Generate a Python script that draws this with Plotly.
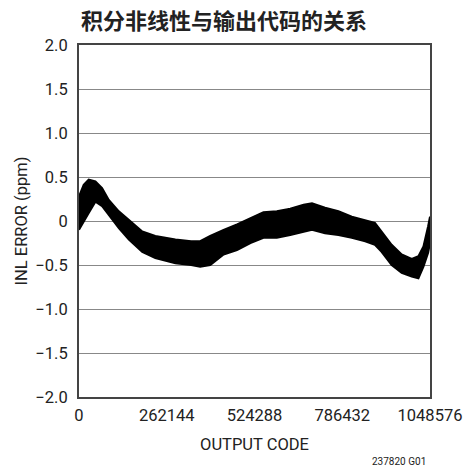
import plotly.graph_objects as go

# Output code positions where the INL band edges were read
codes = [0, 14000, 29000, 49000, 69000, 89000, 119000, 149000, 189000, 228000,
         288000, 335000, 362000, 392000, 432000, 472000, 512000, 551000, 591000,
         631000, 671000, 696000, 735000, 775000, 815000, 855000, 884000, 904000,
         934000, 964000, 994000, 1014000, 1029000, 1043000, 1048576]
# Upper edge of the noisy INL band (ppm)
inl_upper = [0.28, 0.41, 0.47, 0.45, 0.375, 0.24, 0.11, 0.01, -0.12, -0.17,
             -0.21, -0.23, -0.23, -0.17, -0.10, -0.04, 0.03, 0.10, 0.11,
             0.14, 0.185, 0.20, 0.15, 0.11, 0.05, 0.01, -0.02, -0.12,
             -0.27, -0.38, -0.43, -0.40, -0.29, -0.06, 0.05]
# Lower edge of the noisy INL band (ppm)
inl_lower = [-0.10, 0.00, 0.09, 0.22, 0.17, 0.07, -0.08, -0.21, -0.35, -0.42,
             -0.48, -0.50, -0.52, -0.50, -0.38, -0.33, -0.25, -0.19, -0.19,
             -0.16, -0.12, -0.10, -0.14, -0.16, -0.19, -0.23, -0.27, -0.35,
             -0.50, -0.59, -0.63, -0.65, -0.52, -0.36, -0.25]

x_tickvals = [0, 262144, 524288, 786432, 1048576]
x_ticktext = ["0", "262144", "524288", "786432", "1048576"]
y_tickvals = [2.0, 1.5, 1.0, 0.5, 0, -0.5, -1.0, -1.5, -2.0]
y_ticktext = ["2.0", "1.5", "1.0", "0.5", "0", "\u22120.5", "\u22121.0", "\u22121.5", "\u22122.0"]

font_main = "Roboto, Liberation Sans, sans-serif"

fig = go.Figure()
fig.add_trace(go.Scatter(x=codes, y=inl_lower, mode="lines",
                         line=dict(color="black", width=2), showlegend=False,
                         hoverinfo="skip"))
fig.add_trace(go.Scatter(x=codes, y=inl_upper, mode="lines",
                         line=dict(color="black", width=2), fill="tonexty",
                         fillcolor="black", showlegend=False))

fig.update_layout(
    width=464, height=472,
    margin=dict(l=79, r=34, t=45, b=75, autoexpand=False),
    paper_bgcolor="white", plot_bgcolor="white",
    font=dict(family=font_main, size=16.5, color="#222"),
    title=dict(text="<b>积分非线性与输出代码的关系</b>", x=0.483, xanchor="center",
               y=0.955, yanchor="middle",
               font=dict(family="Noto Sans CJK SC", size=22, color="#222")),
    xaxis=dict(range=[0, 1048576], tickvals=x_tickvals, ticktext=x_ticktext,
               showgrid=False, zeroline=False, showline=True, mirror=True,
               linecolor="#444", linewidth=2, ticks="", ticklabelstandoff=2,
               ticklabeloverflow="allow", automargin=False,
               title=dict(text="OUTPUT CODE", standoff=15,
                          font=dict(family=font_main, size=16.5))),
    yaxis=dict(range=[-2, 2], tickvals=y_tickvals, ticktext=y_ticktext,
               showgrid=True, gridcolor="#888", gridwidth=1, zeroline=False,
               showline=True, mirror=True, linecolor="#444", linewidth=2,
               ticks="", ticklabelstandoff=6, automargin=False,
               title=dict(text="INL ERROR (ppm)", standoff=4,
                          font=dict(family=font_main, size=16.5))),
    annotations=[dict(text="237820 G01", xref="paper", yref="paper",
                      x=0.994, y=-0.182, xanchor="right", yanchor="middle",
                      showarrow=False,
                      font=dict(family=font_main, size=10, color="#222"))],
)

fig.write_html("out.html",
               config={"displayModeBar": False},
               post_script="document.body.style.margin='0';")
